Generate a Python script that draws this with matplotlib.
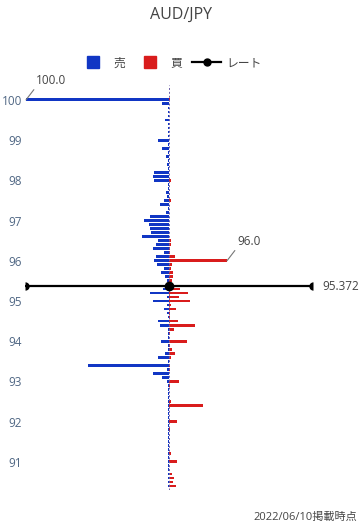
import numpy as np
import matplotlib
matplotlib.use("Agg")
import matplotlib.pyplot as plt
from matplotlib.lines import Line2D

plt.rcParams["font.family"] = ["Open Sans", "Noto Sans CJK JP", "DejaVu Sans"]

# price levels (0.1 step) and order share (%) for sell / buy
prices = np.round(np.arange(100.0, 90.35, -0.1), 1)
sell = [
    2.86, 0.14, 0.02, 0.02, 0.02, 0.08, 0.02, 0.02, 0.02, 0.02,  # 100.0 - 99.1
    0.22, 0.02, 0.14, 0.02, 0.06, 0.02, 0.04, 0.02, 0.30, 0.32,  # 99.0 - 98.1
    0.30, 0.02, 0.02, 0.06, 0.04, 0.10, 0.18, 0.02, 0.06, 0.38,  # 98.0 - 97.1
    0.50, 0.40, 0.38, 0.36, 0.54, 0.22, 0.26, 0.32, 0.10, 0.26,  # 97.0 - 96.1
    0.30, 0.24, 0.10, 0.16, 0.08, 0.04, 0.06, 0.12, 0.38, 0.04,  # 96.0 - 95.1
    0.32, 0.04, 0.10, 0.04, 0.02, 0.22, 0.18, 0.01, 0.02, 0.01,  # 95.0 - 94.1
    0.16, 0.01, 0.01, 0.08, 0.22, 0.01, 1.62, 0.04, 0.32, 0.14,  # 94.0 - 93.1
    0.04, 0.02, 0.01, 0.01, 0.01, 0.01, 0.01, 0.01, 0.01, 0.01,  # 93.0 - 92.1
    0.01, 0.01, 0.01, 0.01, 0.01, 0.01, 0.01, 0.01, 0.01, 0.01,  # 92.0 - 91.1
    0.01, 0.01, 0.01, 0.01, 0.01, 0.01, 0.01,                    # 91.0 - 90.4
]
buy = [
    0.02, 0.01, 0.01, 0.01, 0.01, 0.01, 0.01, 0.01, 0.01, 0.01,  # 100.0 - 99.1
    0.01, 0.01, 0.01, 0.01, 0.01, 0.01, 0.01, 0.01, 0.01, 0.01,  # 99.0 - 98.1
    0.04, 0.01, 0.01, 0.01, 0.01, 0.04, 0.01, 0.01, 0.01, 0.01,  # 98.0 - 97.1
    0.01, 0.01, 0.01, 0.01, 0.01, 0.04, 0.04, 0.02, 0.02, 0.12,  # 97.0 - 96.1
    1.16, 0.06, 0.04, 0.08, 0.08, 0.06, 0.04, 0.22, 0.38, 0.20,  # 96.0 - 95.1
    0.42, 0.04, 0.14, 0.02, 0.02, 0.18, 0.52, 0.10, 0.02, 0.01,  # 95.0 - 94.1
    0.36, 0.02, 0.06, 0.12, 0.04, 0.01, 0.02, 0.02, 0.01, 0.01,  # 94.0 - 93.1
    0.20, 0.02, 0.01, 0.01, 0.01, 0.04, 0.68, 0.01, 0.01, 0.01,  # 93.0 - 92.1
    0.16, 0.01, 0.02, 0.01, 0.01, 0.01, 0.01, 0.01, 0.04, 0.01,  # 92.0 - 91.1
    0.16, 0.01, 0.01, 0.06, 0.10, 0.08, 0.14,                    # 91.0 - 90.4
]
rate = 95.372
yticks = [91, 92, 93, 94, 95, 96, 97, 98, 99, 100]
date_note = "2022/06/10掲載時点"

BLUE = "#1136c4"
RED = "#d91c1c"
GREY = "#506784"
TXT = "#444444"

fig = plt.figure(figsize=(3.63, 5.28), dpi=100)
ax = fig.add_axes([25 / 363, 38 / 528, 288 / 363, 405 / 528])

ax.barh(prices, -np.array(sell), height=0.07, color=BLUE, linewidth=0)
ax.barh(prices, buy, height=0.07, color=RED, linewidth=0)
ax.axvline(0, color="#6c5fa8", lw=0.7, ls=(0, (2, 2)), zorder=1)

# current rate line; end markers look cut in half by the plot edge
xmax = 2.88
ax.plot([-xmax, xmax], [rate, rate], color="black", lw=1.6, zorder=5)
ax.plot([0], [rate], "o", color="black", markersize=6, zorder=6)
ax.plot([xmax], [rate], "o", color="black", markersize=6, fillstyle="left",
        markerfacecoloralt="none", markeredgewidth=0, zorder=6)
ax.plot([-xmax], [rate], "o", color="black", markersize=6, fillstyle="right",
        markerfacecoloralt="none", markeredgewidth=0, zorder=6)

ax.set_xlim(-xmax, xmax)
ax.set_ylim(90.3, 100.37)
ax.set_yticks(yticks)
ax.set_yticklabels([str(t) for t in yticks])
ax.set_xticks([])
ax.tick_params(axis="y", length=0, pad=2, labelsize=8.5, labelcolor=GREY)
for s in ax.spines.values():
    s.set_visible(False)

# labels for the biggest bars
i_s = int(np.argmax(sell))
i_b = int(np.argmax(buy))
ax.annotate(f"{prices[i_s]:.1f}", xy=(-sell[i_s], prices[i_s]), xytext=(10, 13),
            textcoords="offset pixels", fontsize=8.5, color=TXT, ha="left", va="bottom",
            arrowprops=dict(arrowstyle="-", color="#777777", lw=0.8, relpos=(0, 0),
                            shrinkA=0, shrinkB=0))
ax.annotate(f"{prices[i_b]:.1f}", xy=(buy[i_b], prices[i_b]), xytext=(10, 13),
            textcoords="offset pixels", fontsize=8.5, color=TXT, ha="left", va="bottom",
            arrowprops=dict(arrowstyle="-", color="#777777", lw=0.8, relpos=(0, 0),
                            shrinkA=0, shrinkB=0))
ax.annotate(f"{rate}", xy=(xmax, rate), xytext=(9, 0), textcoords="offset pixels",
            fontsize=8.5, color=TXT, ha="left", va="center", annotation_clip=False)

fig.text(0.5, 1 - 15 / 528, "AUD/JPY", ha="center", va="center", fontsize=11.5, color=TXT)

handles = [
    Line2D([0], [0], ls="none", marker="s", markersize=8, color=BLUE, label="売"),
    Line2D([0], [0], ls="none", marker="s", markersize=8, color=RED, label="買"),
    Line2D([0], [0], color="black", lw=1.6, marker="o", markersize=5, label="レート"),
]
fig.legend(handles=handles, loc="center", bbox_to_anchor=(0.47, 1 - 63 / 528), ncol=3,
           frameon=False, fontsize=8.5, labelcolor=TXT, handlelength=2.4,
           columnspacing=0.9, handletextpad=0.5)

fig.text(357 / 363, 1 - 517 / 528, date_note, ha="right", va="center", fontsize=8, color=TXT)

fig.savefig("out.png", dpi=100)
